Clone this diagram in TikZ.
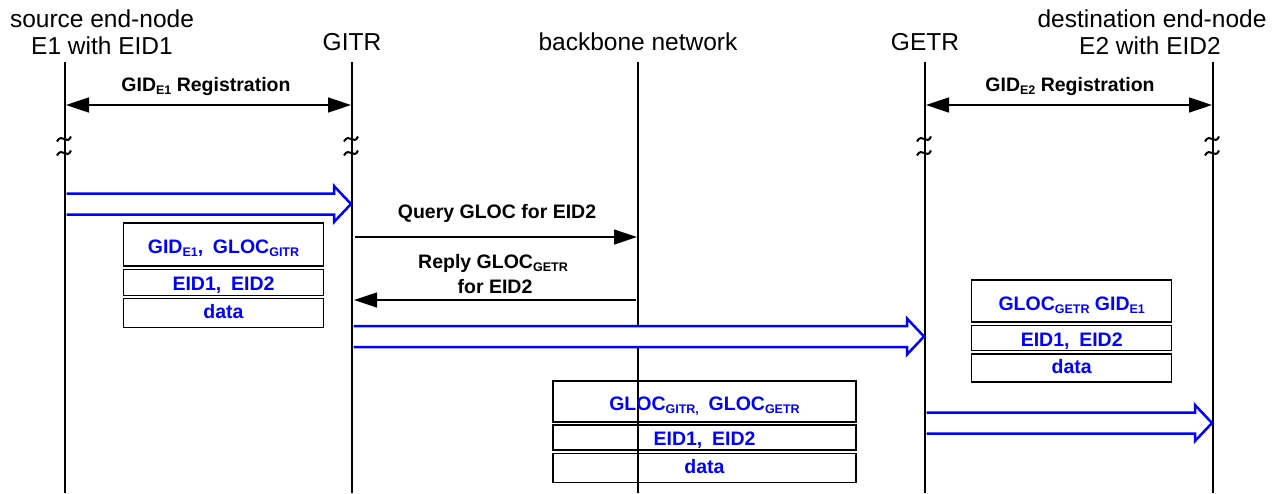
\documentclass[tikz,border=0pt]{standalone}
\usepackage{fontspec}
\setmainfont{Liberation Sans}
\usepackage{tikz}
\usetikzlibrary{arrows.meta,positioning}

\definecolor{pktblue}{RGB}{0,0,255}
\newcommand{\lo}[1]{\raisebox{-3pt}{\fontsize{12.5}{13}\selectfont #1}}
% open double-line arrow, filled white
\newcommand{\hollowarrow}[2]{%
  \filldraw[hollow] ([xshift=1.5pt,yshift=10.5pt]#1) -- ([xshift=-17pt,yshift=10.5pt]#2)
    -- ([xshift=-17pt,yshift=18pt]#2) -- (#2) -- ([xshift=-17pt,yshift=-18pt]#2)
    -- ([xshift=-17pt,yshift=-10.5pt]#2) -- ([xshift=1.5pt,yshift=-10.5pt]#1);}
% small break mark on a lifeline
\newcommand{\breakmark}[1]{%
  \draw[brk] ([shift={(-8pt,-2.5pt)}]#1) .. controls ([shift={(-3pt,7pt)}]#1) and ([shift={(2pt,-7pt)}]#1) .. ([shift={(6pt,2.5pt)}]#1);}

\begin{document}
\begin{tikzpicture}[x=1pt,y=-1pt,>={Triangle[length=23pt,width=15pt]},
  life/.style={line width=2.5pt},
  title/.style={font=\fontsize{24.5}{28}\selectfont,anchor=base},
  msg/.style={font=\fontsize{19.5}{22}\selectfont\bfseries,anchor=base},
  reg/.style={line width=1.5pt,<->},
  sig/.style={line width=1.2pt,->},
  hollow/.style={draw=pktblue,fill=white,line width=2.5pt},
  brk/.style={line width=2pt},
  row/.style={draw,line width=1.5pt,inner sep=0pt,font=\fontsize{19.5}{22}\selectfont\bfseries,text=pktblue},
  rowA/.style={row,text height=20pt,text depth=2pt},
  rowB/.style={row,text height=18pt,text depth=2pt},
  rowC/.style={row,text height=14pt,text depth=3pt}]
  \useasboundingbox (0,0) rectangle (1284,493);

  % titles
  \node[title] (srcA) at (102,27) {source end-node};
  \node[title] (srcB) at (102,54) {E1 with EID1};
  \node[title] (gitrT) at (352,50) {GITR};
  \node[title] (bbT) at (638,50) {backbone network};
  \node[title] (getrT) at (925,50) {GETR};
  \node[title] (dstA) at (1152,27) {destination end-node};
  \node[title] (dstB) at (1150,54) {E2 with EID2};

  % lifelines
  \foreach \n/\x in {e1/65,gitr/352,bb/638,getr/925,e2/1213}{
    \coordinate (\n top) at (\x,62);
    \coordinate (\n bot) at (\x,493);
    \draw[life] (\n top) -- (\n bot);
  }
  \foreach \n/\x in {e1/65,gitr/352,getr/925,e2/1213}{
    \coordinate (\n brkA) at (\x,139);
    \coordinate (\n brkB) at (\x,153);
    \breakmark{\n brkA}
    \breakmark{\n brkB}
  }

  % registrations
  \coordinate (regAl) at (66,105);
  \coordinate (regAr) at (351,105);
  \coordinate (regBl) at (926,105);
  \coordinate (regBr) at (1212,105);
  \draw[reg] (regAl) -- (regAr);
  \draw[reg] (regBl) -- (regBr);
  \node[msg] (regA) at (206,91) {GID\lo{E1} Registration};
  \node[msg] (regB) at (1070,91) {GID\lo{E2} Registration};

  % query and reply
  \coordinate (qs) at (355,237);
  \coordinate (qe) at (637,237);
  \coordinate (rs) at (636,300);
  \coordinate (re) at (354,300);
  \draw[sig] (qs) -- (qe);
  \draw[sig] (rs) -- (re);
  \node[msg] (query) at (497,218) {Query GLOC for EID2};
  \node[msg] (replyA) at (493,268) {Reply GLOC\lo{GETR}};
  \node[msg] (replyB) at (495,293) {for EID2};

  % packet flows
  \coordinate (fAs) at (65,204);
  \coordinate (fAe) at (351,204);
  \coordinate (fBs) at (352,336.5);
  \coordinate (fBe) at (924,336.5);
  \coordinate (fCs) at (925,423);
  \coordinate (fCe) at (1212,423);
  \hollowarrow{fAs}{fAe}
  \hollowarrow{fBs}{fBe}
  \hollowarrow{fCs}{fCe}

  % packets
  \node[rowA,minimum width=200pt,minimum height=43pt] (pA1) at (223.5,244.5) {GID\lo{E1},\enspace GLOC\lo{GITR}};
  \node[rowB,minimum width=200pt,minimum height=26pt,below=1.8pt of pA1] (pA2) {EID1,\enspace EID2};
  \node[rowC,minimum width=200pt,minimum height=29pt,below=1.5pt of pA2] (pA3) {data};

  \node[rowA,minimum width=303pt,minimum height=41pt] (pB1) at (704.5,401.5) {GLOC\lo{GITR,}\enspace GLOC\lo{GETR}};
  \node[rowB,minimum width=303pt,minimum height=25pt,below=1.5pt of pB1] (pB2) {EID1,\enspace EID2};
  \node[rowC,minimum width=303pt,minimum height=29pt,below=2pt of pB2] (pB3) {data};

  \node[rowA,minimum width=200pt,minimum height=42pt] (pC1) at (1071.7,301) {GLOC\lo{GETR} GID\lo{E1}};
  \node[rowB,minimum width=200pt,minimum height=25pt,below=2pt of pC1] (pC2) {EID1,\enspace EID2};
  \node[rowC,minimum width=200pt,minimum height=28pt,below=1.8pt of pC2] (pC3) {data};
\end{tikzpicture}
\end{document}
